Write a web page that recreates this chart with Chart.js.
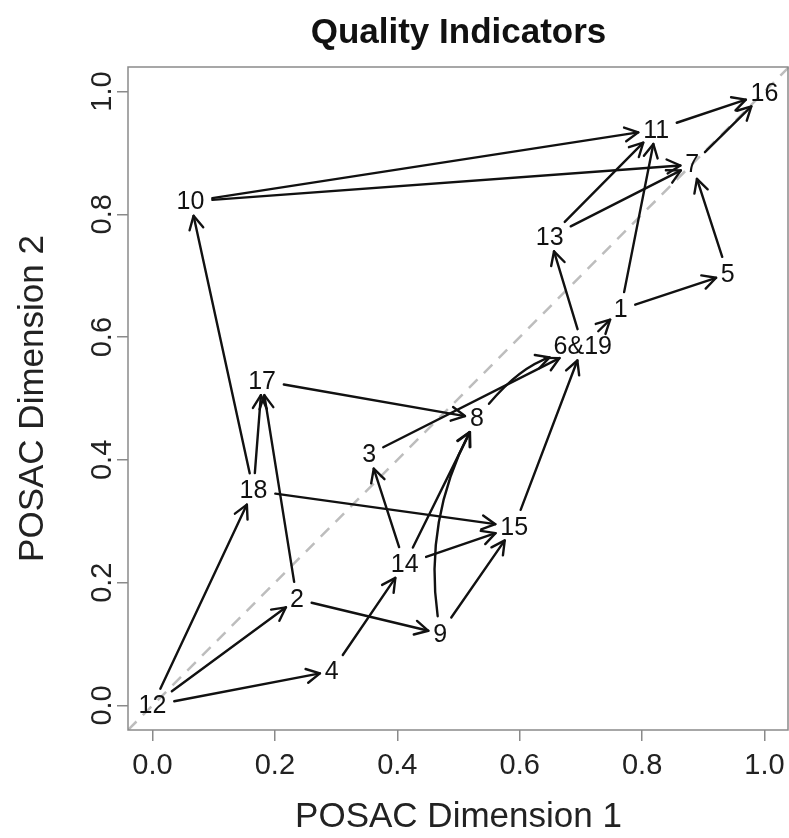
<!DOCTYPE html>
<html lang="en">
<head>
    <meta charset="UTF-8">
    <title>Quality Indicators</title>
    <script src="https://cdn.jsdelivr.net/npm/chart.js"></script>
    <style>
        body { margin: 0; background: #fff; }
        canvas { display: block; }
    </style>
</head>
<body>
    <canvas id="posac" width="789" height="838"></canvas>

    <script>
        // POSAC scores per indicator (6 and 19 share one point)
        const pointLabels = ['1', '2', '3', '4', '5', '6&19', '7', '8', '9', '10', '11', '12', '13', '14', '15', '16', '17', '18'];
        const dim1 = [0.765, 0.236, 0.354, 0.293, 0.940, 0.703, 0.882, 0.530, 0.470, 0.062, 0.823, 0.000, 0.649, 0.412, 0.591, 1.000, 0.179, 0.165];
        const dim2 = [0.645, 0.173, 0.409, 0.056, 0.703, 0.585, 0.881, 0.468, 0.117, 0.821, 0.938, 0.000, 0.763, 0.230, 0.291, 0.997, 0.529, 0.350];

        // order relations drawn as arrows (from -> to), bend > 0 means curved
        const arrowFrom = ['12', '12', '12', '4', '2', '2', '18', '18', '18', '17', '14', '14', '14', '9', '9', '3', '8', '15', '6&19', '6&19', '1', '1', '13', '13', '5', '10', '10', '11', '7'];
        const arrowTo   = ['18', '2', '4', '14', '9', '17', '17', '10', '15', '8', '3', '8', '15', '8', '15', '6&19', '6&19', '6&19', '1', '13', '5', '11', '11', '7', '7', '11', '7', '16', '16'];
        const arrowBend = [0, 0, 0, 0, 0, 0, 0, 0, 0, 0, 0, 0, 0, 0.16, 0, 0, 0.14, 0, 0, 0, 0, 0, 0, 0, 0, 0, 0, 0, 0];

        const xTicks = [0, 0.2, 0.4, 0.6, 0.8, 1.0];
        const yTicks = [0, 0.2, 0.4, 0.6, 0.8, 1.0];
        const diagonal = [-0.04, 1.04];

        const fontFam = '"Liberation Sans", Arial, Helvetica, sans-serif';
        const labelFont = '25px ' + fontFam;
        const axisGray = '#8a8a8a';

        function boxExit(p, ux, uy) {
            const a = Math.abs(ux) > 1e-6 ? p.hw / Math.abs(ux) : Infinity;
            const b = Math.abs(uy) > 1e-6 ? p.hh / Math.abs(uy) : Infinity;
            return Math.min(a, b);
        }

        const posacPlugin = {
            id: 'posac',
            afterDatasetsDraw(chart) {
                const { ctx, scales: { x, y } } = chart;
                ctx.save();
                ctx.font = labelFont;
                const pos = {};
                pointLabels.forEach((l, i) => {
                    pos[l] = {
                        x: x.getPixelForValue(dim1[i]),
                        y: y.getPixelForValue(dim2[i]),
                        hw: ctx.measureText(l).width / 2,
                        hh: 9.5
                    };
                });

                ctx.strokeStyle = '#111';
                ctx.lineWidth = 2.4;
                ctx.lineCap = 'round';
                ctx.lineJoin = 'round';
                arrowFrom.forEach((f, i) => {
                    const p0 = pos[f], p1 = pos[arrowTo[i]];
                    const dx = p1.x - p0.x, dy = p1.y - p0.y;
                    const bend = arrowBend[i];
                    const cx = (p0.x + p1.x) / 2 + dy * bend;
                    const cy = (p0.y + p1.y) / 2 - dx * bend;
                    // tangents at both ends
                    let sx = cx - p0.x, sy = cy - p0.y;
                    const sl = Math.hypot(sx, sy); sx /= sl; sy /= sl;
                    let ex = p1.x - cx, ey = p1.y - cy;
                    const el = Math.hypot(ex, ey); ex /= el; ey /= el;
                    const s0 = boxExit(p0, sx, sy) + 8;
                    const s1 = boxExit(p1, ex, ey) + 5;
                    const ax = p0.x + sx * s0, ay = p0.y + sy * s0;
                    const bx = p1.x - ex * s1, by = p1.y - ey * s1;
                    ctx.beginPath();
                    ctx.moveTo(ax, ay);
                    if (bend) ctx.quadraticCurveTo(cx, cy, bx, by);
                    else ctx.lineTo(bx, by);
                    ctx.stroke();
                    // open arrow head
                    const ang = Math.atan2(ey, ex);
                    const hl = 15, spread = Math.PI / 6.5;
                    ctx.beginPath();
                    ctx.moveTo(bx - hl * Math.cos(ang - spread), by - hl * Math.sin(ang - spread));
                    ctx.lineTo(bx, by);
                    ctx.lineTo(bx - hl * Math.cos(ang + spread), by - hl * Math.sin(ang + spread));
                    ctx.stroke();
                });

                ctx.fillStyle = '#111';
                ctx.textAlign = 'center';
                ctx.textBaseline = 'middle';
                pointLabels.forEach(l => {
                    ctx.fillText(l, pos[l].x, pos[l].y + 1);
                });
                ctx.restore();
            },
            afterDraw(chart) {
                const { ctx, chartArea: a, scales: { y } } = chart;
                ctx.save();
                ctx.strokeStyle = axisGray;
                ctx.lineWidth = 1.5;
                ctx.strokeRect(a.left, a.top, a.right - a.left - 1, a.bottom - a.top);
                // y tick labels run along the axis, as in R
                ctx.fillStyle = '#222';
                ctx.font = '29px ' + fontFam;
                ctx.textAlign = 'center';
                ctx.textBaseline = 'middle';
                yTicks.forEach(v => {
                    ctx.save();
                    ctx.translate(103, y.getPixelForValue(v));
                    ctx.rotate(-Math.PI / 2);
                    ctx.fillText(v.toFixed(1), 0, 0);
                    ctx.restore();
                });
                ctx.restore();
            }
        };

        const chart = new Chart(document.getElementById('posac'), {
            type: 'scatter',
            data: {
                datasets: [
                    {
                        data: diagonal.map(v => ({ x: v, y: v })),
                        showLine: true,
                        borderColor: '#bdbdbd',
                        borderWidth: 2.5,
                        borderDash: [12, 9],
                        pointRadius: 0
                    },
                    {
                        data: dim1.map((v, i) => ({ x: v, y: dim2[i] })),
                        pointRadius: 0
                    }
                ]
            },
            options: {
                responsive: false,
                animation: false,
                devicePixelRatio: 1,
                layout: { padding: 0 },
                plugins: {
                    legend: { display: false },
                    tooltip: { enabled: false },
                    title: {
                        display: true,
                        text: 'Quality Indicators',
                        fullSize: false,
                        color: '#111',
                        font: { family: fontFam, size: 35, weight: 'bold' },
                        padding: { top: 12, bottom: 13 }
                    }
                },
                scales: {
                    x: {
                        min: -0.04, max: 1.04,
                        afterBuildTicks: s => { s.ticks = xTicks.map(v => ({ value: v })); },
                        afterFit: s => { s.height = 108; s.paddingLeft = 0; s.paddingRight = 0; },
                        border: { display: false },
                        grid: { drawOnChartArea: false, drawTicks: true, tickLength: 11, color: axisGray, lineWidth: 1.5 },
                        ticks: {
                            color: '#222', padding: 8, maxRotation: 0,
                            font: { family: fontFam, size: 29 },
                            callback: v => v.toFixed(1)
                        },
                        title: {
                            display: true, text: 'POSAC Dimension 1', color: '#222',
                            font: { family: fontFam, size: 35 },
                            padding: { top: 0, bottom: 0 }
                        }
                    },
                    y: {
                        min: -0.04, max: 1.04,
                        afterBuildTicks: s => { s.ticks = yTicks.map(v => ({ value: v })); },
                        afterFit: s => { s.width = 128; s.paddingTop = 0; s.paddingBottom = 0; },
                        border: { display: false },
                        grid: { drawOnChartArea: false, drawTicks: true, tickLength: 11, color: axisGray, lineWidth: 1.5 },
                        ticks: { display: false },
                        title: {
                            display: true, text: 'POSAC Dimension 2', color: '#222',
                            font: { family: fontFam, size: 35 },
                            padding: { top: 12, bottom: 0 }
                        }
                    }
                }
            },
            plugins: [posacPlugin]
        });
    </script>
</body>
</html>
